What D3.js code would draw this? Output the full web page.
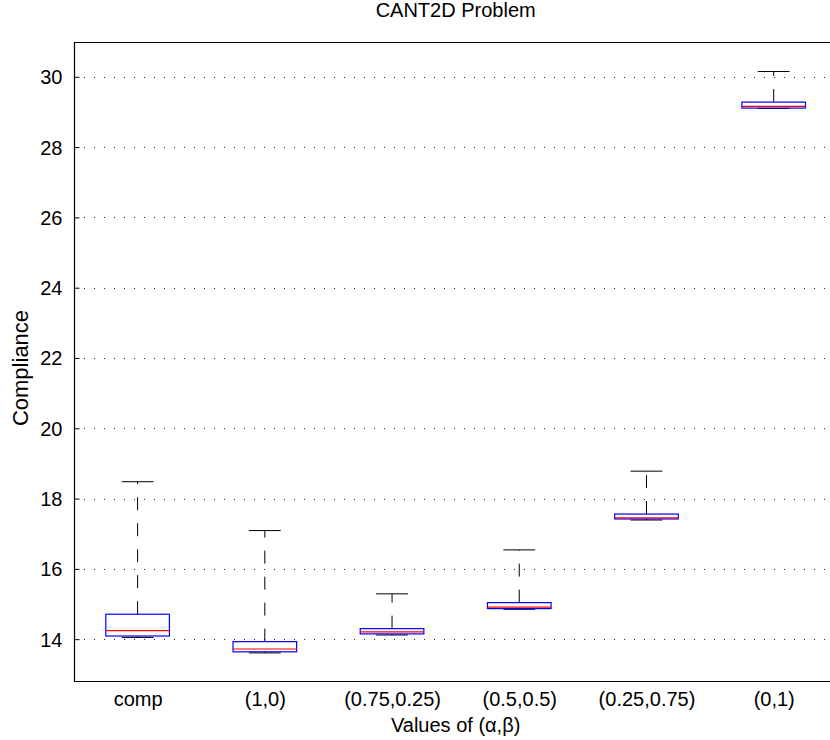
<!DOCTYPE html>
<html>
<head>
<meta charset="utf-8">
<script src="https://cdn.jsdelivr.net/npm/d3@7"></script>
<style>
  html, body { margin: 0; padding: 0; background: #fff; }
  svg { display: block; }
  text { font-family: "Liberation Sans", Arial, Helvetica, sans-serif; fill: #000; }
</style>
</head>
<body>
<script>
// Compliance distributions for each weighting (alpha, beta)
const categories = ["comp", "(1,0)", "(0.75,0.25)", "(0.5,0.5)", "(0.25,0.75)", "(0,1)"];
const lowerWhisker = [14.05, 13.61, 14.12, 14.85, 17.39, 29.10];
const q1Values     = [14.09, 13.64, 14.15, 14.87, 17.42, 29.11];
const medianValues = [14.245, 13.72, 14.21, 14.91, 17.45, 29.16];
const q3Values     = [14.71, 13.93, 14.30, 15.04, 17.56, 29.28];
const upperWhisker = [18.48, 17.09, 15.29, 16.54, 18.78, 30.15];
const yTicks = [14, 16, 18, 20, 22, 24, 26, 28, 30];

const W = 830, H = 740;
const plot = { left: 74, top: 42, right: 837.3, bottom: 681 };

const svg = d3.select("body").append("svg").attr("width", W).attr("height", H);

const x = d3.scaleLinear().domain([0.5, categories.length + 0.5]).range([plot.left, plot.right]);
const y = d3.scaleLinear().domain([12.81, 30.99]).range([plot.bottom, plot.top]);

// dotted horizontal grid
svg.append("g").selectAll("line").data(yTicks).join("line")
  .attr("x1", plot.left).attr("x2", plot.right)
  .attr("y1", d => Math.round(y(d)) + 0.5).attr("y2", d => Math.round(y(d)) + 0.5)
  .attr("stroke", "#222").attr("stroke-width", 1)
  .attr("stroke-dasharray", "1,9");

// y axis with ticks pointing inward
const yAxis = d3.axisLeft(y).tickValues(yTicks).tickSizeInner(-5).tickSizeOuter(0).tickPadding(12);
const gy = svg.append("g").attr("transform", `translate(${plot.left + 0.5},0)`).call(yAxis);
gy.select(".domain").remove();
gy.selectAll(".tick line").attr("stroke", "#000");
gy.selectAll(".tick text").style("font-size", "20px")
  .attr("font-family", "Liberation Sans, Arial, sans-serif").attr("dy", "0.35em");

// x axis labels
const gx = svg.append("g").attr("transform", `translate(0,${plot.bottom})`)
  .call(d3.axisBottom(x).tickValues(d3.range(1, categories.length + 1))
    .tickFormat((d, i) => categories[i]).tickSize(0).tickPadding(0));
gx.select(".domain").remove();
gx.selectAll(".tick text").style("font-size", "20px")
  .attr("font-family", "Liberation Sans, Arial, sans-serif")
  .attr("dy", null).attr("y", 25);

// axes frame (left, top, bottom)
svg.append("path")
  .attr("d", `M${plot.right},${plot.top + 0.5}H${plot.left + 0.5}V${plot.bottom + 0.5}H${plot.right}`)
  .attr("fill", "none").attr("stroke", "#000").attr("stroke-width", 1.2);

// boxes
const boxHalf = 0.25, capHalf = 0.125;
const g = svg.append("g");
categories.forEach((c, i) => {
  const pos = i + 1;
  const cx = x(pos);
  // whiskers drawn outward from box edges
  g.append("line").attr("x1", cx).attr("x2", cx)
    .attr("y1", y(q3Values[i])).attr("y2", y(upperWhisker[i]))
    .attr("stroke", "#000").attr("stroke-width", 1).attr("stroke-dasharray", "13,13");
  g.append("line").attr("x1", cx).attr("x2", cx)
    .attr("y1", y(q1Values[i])).attr("y2", y(lowerWhisker[i]))
    .attr("stroke", "#000").attr("stroke-width", 1).attr("stroke-dasharray", "13,13");
  // caps
  [upperWhisker[i], lowerWhisker[i]].forEach(v => {
    g.append("line").attr("x1", x(pos - capHalf)).attr("x2", x(pos + capHalf))
      .attr("y1", y(v)).attr("y2", y(v))
      .attr("stroke", "#000").attr("stroke-width", 1);
  });
  // box
  g.append("rect")
    .attr("x", x(pos - boxHalf)).attr("width", x(pos + boxHalf) - x(pos - boxHalf))
    .attr("y", y(q3Values[i])).attr("height", y(q1Values[i]) - y(q3Values[i]))
    .attr("fill", "none").attr("stroke", "#0000ff").attr("stroke-width", 1.2);
  // median
  g.append("line").attr("x1", x(pos - boxHalf)).attr("x2", x(pos + boxHalf))
    .attr("y1", y(medianValues[i])).attr("y2", y(medianValues[i]))
    .attr("stroke", "#ff0000").attr("stroke-width", 1.2);
});

// title and axis labels
svg.append("text").attr("x", (plot.left + plot.right) / 2).attr("y", 17)
  .attr("text-anchor", "middle").style("font-size", "20px").text("CANT2D Problem");
svg.append("text").attr("x", (plot.left + plot.right) / 2).attr("y", 732)
  .attr("text-anchor", "middle").style("font-size", "20px").text("Values of (α,β)");
svg.append("text").attr("transform", `translate(28,368) rotate(-90)`)
  .attr("text-anchor", "middle").style("font-size", "22px").text("Compliance");
</script>
</body>
</html>
